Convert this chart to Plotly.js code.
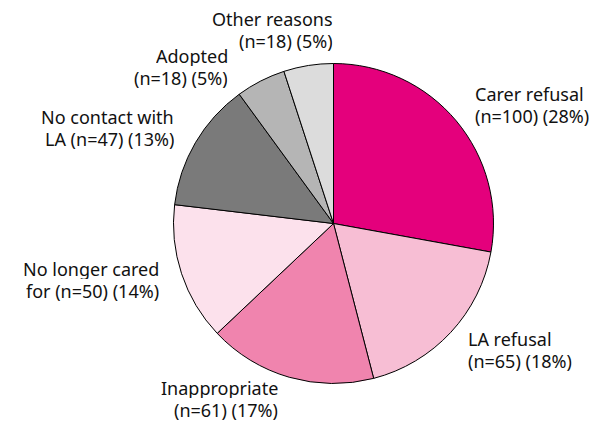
<!DOCTYPE html>
<html>
<head>
<meta charset="utf-8">
<script src="https://cdn.plot.ly/plotly-3.0.1.min.js"></script>
<style>html,body{margin:0;padding:0;background:#fff;}#chart{width:607px;height:421px;}</style>
</head>
<body>
<div id="chart"></div>
<script>
var categories = ["Carer refusal", "LA refusal", "Inappropriate", "No longer cared for", "No contact with LA", "Adopted", "Other reasons"];
var counts = [100, 65, 61, 50, 47, 18, 18];
var percents = [28, 18, 17, 14, 13, 5, 5];
var displayLabels = [
  "Carer refusal<br>(n=100) (28%)",
  "LA refusal<br>(n=65) (18%)",
  "Inappropriate<br>(n=61) (17%)",
  "No longer cared<br>for (n=50) (14%)",
  "No contact with<br>LA (n=47) (13%)",
  "Adopted<br>(n=18) (5%)",
  "Other reasons<br>(n=18) (5%)"
];
var colors = ["#E4007C", "#F7BED4", "#F084AE", "#FCE1EC", "#7A7A7A", "#B5B5B5", "#DCDCDC"];

var W = 607, H = 421;
var cx = 333.5, cy = 223.5, r = 160;

// label placement in pixels: [x, y of first line, xanchor]
var labelPos = [
  [474, 94, "left"],
  [467, 339, "left"],
  [279, 388, "right"],
  [160, 269, "right"],
  [175, 117, "right"],
  [229, 56, "right"],
  [334, 19, "right"]
];
var lineGap = 22;

var trace = {
  type: "pie",
  labels: categories,
  values: counts,
  sort: false,
  direction: "clockwise",
  rotation: 0,
  textinfo: "none",
  hoverinfo: "label+value",
  marker: {colors: colors, line: {color: "#000000", width: 1}},
  domain: {x: [(cx - r) / W, (cx + r) / W], y: [(H - cy - r) / H, (H - cy + r) / H]},
  showlegend: false
};

var annotations = [];
displayLabels.forEach(function (t, i) {
  var p = labelPos[i];
  t.split("<br>").forEach(function (line, j) {
    annotations.push({
      text: line,
      xref: "paper", yref: "paper",
      x: p[0] / W, y: 1 - (p[1] + j * lineGap) / H,
      xanchor: p[2], yanchor: "middle",
      align: p[2],
      height: 20,
      valign: "middle",
      showarrow: false,
      borderpad: 0,
      font: {family: "Noto Sans, Open Sans, sans-serif", size: 18, color: "#111111"}
    });
  });
});

var layout = {
  width: W, height: H,
  margin: {l: 0, r: 0, t: 0, b: 0},
  paper_bgcolor: "#ffffff",
  plot_bgcolor: "#ffffff",
  annotations: annotations
};

Plotly.newPlot("chart", [trace], layout, {displayModeBar: false, staticPlot: true});
</script>
</body>
</html>
